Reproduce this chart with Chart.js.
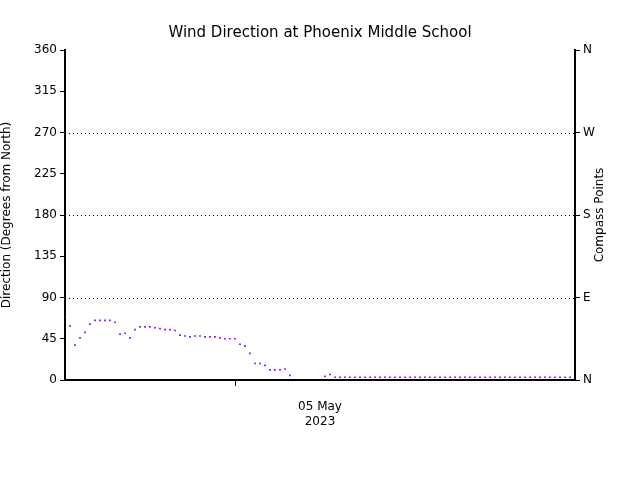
<!DOCTYPE html>
<html><head><meta charset="utf-8">
<script src="https://cdn.jsdelivr.net/npm/chart.js@4"></script>
<style>html,body{margin:0;background:#fff}#w{width:640px;height:480px}</style>
</head><body><div id="w"><canvas id="c"></canvas></div>
<script>
const direction = [69,59,38,46,52,61,65,65,65,65,63,50,51,46,55,58,58,58,57,56,55,55,54,49,48,47,48,48,47,47,47,46,45,45,45,39,37,29,18,18,16,11,11,11,12,5,
null,null,null,null,null,null,4,6,3,3,3,3,3,3,3,3,3,3,3,3,3,3,3,3,3,3,3,3,3,3,3,3,3,3,3,3,3,3,3,3,3,3,3,3,3,3,3,3,3,3,3,3,3,3,3,3];
const yTicks = [0,45,90,135,180,225,270,315,360];
const dottedLines = [90,180,270];
const compass = {0:'N',90:'E',180:'S',270:'W',360:'N'};
const dateTickIndex = 34;
const dateLabelIndex = 51;
const dateLabel = ['05 May','2023'];
const pts = direction.map((v,i)=>({x:i,y:v}));
const F = {family:'DejaVu Sans',size:12};
const extras = {id:'extras',
  beforeDatasetsDraw(ch){const {ctx,chartArea:a,scales:{y}}=ch;ctx.save();ctx.strokeStyle='#000';ctx.lineWidth=1;ctx.setLineDash([1,3]);
    dottedLines.forEach(v=>{const py=Math.round(y.getPixelForValue(v))+0.5;ctx.beginPath();ctx.moveTo(a.left,py);ctx.lineTo(a.right,py);ctx.stroke();});ctx.restore();},
  afterDraw(ch){const {ctx,chartArea:a}=ch;ctx.save();ctx.fillStyle='#000';ctx.font='12px "DejaVu Sans"';ctx.textAlign='center';ctx.textBaseline='middle';
    ctx.translate(600,(a.top+a.bottom)/2);ctx.rotate(-Math.PI/2);ctx.fillText('Compass Points',0,0);ctx.restore();}};
new Chart(document.getElementById('c'),{
  type:'scatter',
  data:{datasets:[{data:pts,backgroundColor:'#7f00ff',borderColor:'#7f00ff',pointStyle:'rect',pointRadius:1.2,borderWidth:0,showLine:false}]},
  options:{responsive:true,maintainAspectRatio:false,animation:false,
    plugins:{legend:{display:false},tooltip:{enabled:false},
      title:{display:true,text:'Wind Direction at Phoenix Middle School',color:'#000',font:{family:'DejaVu Sans',size:15,weight:'normal'},padding:{top:24,bottom:8}}},
    scales:{
      x:{type:'linear',min:0,max:102,position:'bottom',
        afterFit:s=>{s.height=8},
        afterBuildTicks:s=>{s.ticks=[{value:dateTickIndex}]},
        border:{color:'#000',width:2},
        grid:{drawOnChartArea:false,color:'#000',tickLength:6},
        ticks:{callback:()=>''}},
      x2:{type:'linear',min:0,max:102,position:'bottom',
        afterFit:s=>{s.height=92},
        afterBuildTicks:s=>{s.ticks=[{value:dateLabelIndex}]},
        border:{display:false},grid:{display:false},
        ticks:{color:'#000',font:F,padding:4,callback:()=>dateLabel,maxRotation:0}},
      y:{min:0,max:360,position:'left',
        afterFit:s=>{s.width=65},
        afterBuildTicks:s=>{s.ticks=yTicks.map(v=>({value:v}))},
        border:{color:'#000',width:2},
        grid:{drawOnChartArea:false,tickColor:'#000',tickLength:5},
        ticks:{color:'#000',font:F,padding:3},
        title:{display:true,text:'Direction (Degrees from North)',color:'#000',font:F,padding:{top:0,bottom:4}}},
      y2:{min:0,max:360,position:'right',
        afterFit:s=>{s.width=65},
        afterBuildTicks:s=>{s.ticks=[0,90,180,270,360].map(v=>({value:v}))},
        border:{color:'#000',width:2},
        grid:{drawOnChartArea:false,tickColor:'#000',tickLength:5},
        ticks:{color:'#000',font:F,padding:3,callback:v=>compass[v]}}
    }},
  plugins:[extras]
});
</script></body></html>
